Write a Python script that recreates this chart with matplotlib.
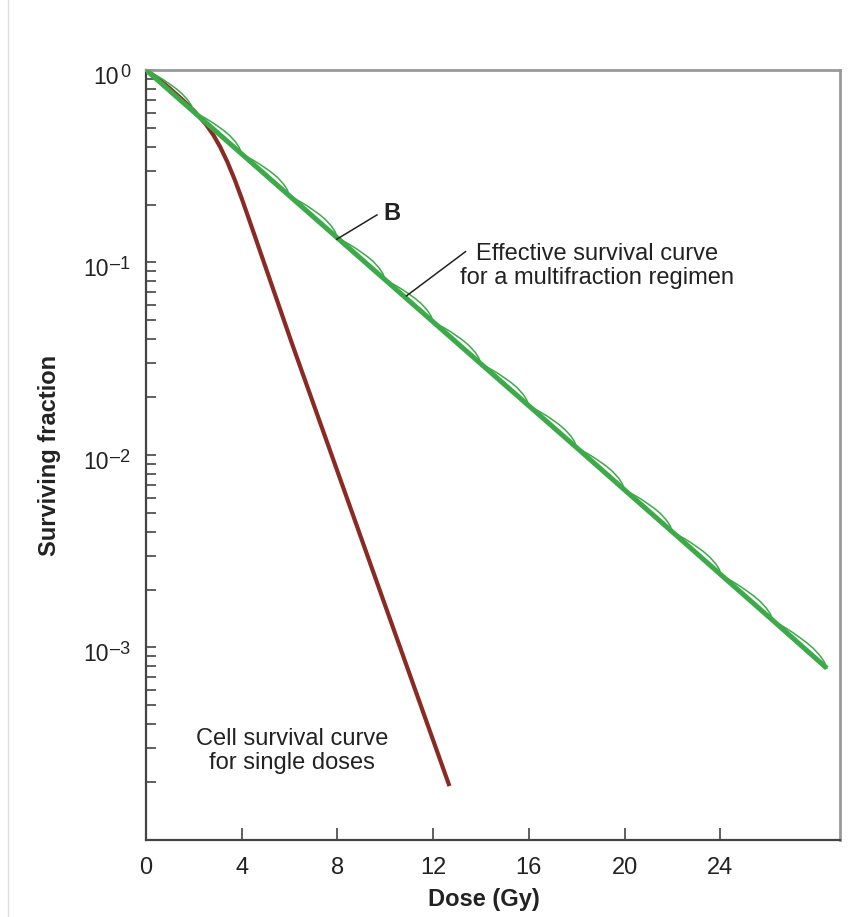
import matplotlib
matplotlib.use("Agg")
from matplotlib import pyplot as plt
from matplotlib.lines import Line2D
import numpy as np

plt.rcParams['font.family'] = ['Liberation Sans', 'DejaVu Sans']

# single dose survival curve (dose in Gy, surviving fraction)
single_dose = [0, 0.5, 1.0, 1.5, 2.0, 2.5, 2.8, 3.1, 3.4, 3.7, 4.0, 4.4, 4.9, 6.11, 12.68]
single_sf = [1.0, 0.9016, 0.7998, 0.7047, 0.6138, 0.5224, 0.4624, 0.3981, 0.3327,
             0.2704, 0.2148, 0.1549, 0.1023, 0.03758, 1.905e-4]

# fraction vertices of the multifraction regimen
frac_dose = [0, 2, 4, 6, 8, 10, 12, 14, 16, 18, 20, 22, 24.05, 26.2, 28.45]
frac_sf = [1.0, 0.605, 0.366, 0.2215, 0.134, 0.0811, 0.0491, 0.0297, 0.0180,
           0.0109, 0.00658, 0.00398, 0.00237, 0.00138, 0.00078]

# shape of one scallop: position within the fraction, rise above the chord (decades)
scallop_t = [0, 0.125, 0.25, 0.375, 0.5, 0.625, 0.75, 0.875, 0.95, 1.0]
scallop_rise = [0, 0.011, 0.021, 0.029, 0.035, 0.040, 0.041, 0.034, 0.022, 0]

yticks = [1, 1e-1, 1e-2, 1e-3]
ytick_exps = ['0', '\u20131', '\u20132', '\u20133']
xticks = [0, 4, 8, 12, 16, 20, 24]

red = '#8a2a22'
green = '#3daa4a'
ink = '#222222'

fig = plt.figure(figsize=(8.61, 9.17), dpi=100)
ax = fig.add_axes([0.1696, 0.0840, 0.8060, 0.8397])

ax.plot(single_dose, single_sf, color=red, lw=3.0, solid_capstyle='butt', zorder=2)

# thin scallops for each fraction
t = np.array(scallop_t)
rise = np.array(scallop_rise)
for i in range(len(frac_dose) - 1):
    d0, d1 = frac_dose[i], frac_dose[i + 1]
    l0, l1 = np.log10(frac_sf[i]), np.log10(frac_sf[i + 1])
    xs = d0 + t * (d1 - d0)
    ys = 10 ** (l0 + t * (l1 - l0) + rise)
    ax.plot(xs, ys, color=green, lw=1.1, zorder=3)

ax.plot(frac_dose, frac_sf, color=green, lw=3.6, solid_capstyle='butt', zorder=4)

ax.set_yscale('log')
ax.set_ylim(1e-4, 1)
ax.set_xlim(0, 29)
ax.set_yticks(yticks)
ax.set_yticklabels([])
ax.set_xticks(xticks)
ax.tick_params(axis='x', which='major', direction='in', length=8.5, width=1.2,
               color='#444444', labelsize=17, pad=12, labelcolor=ink)
ax.tick_params(axis='y', which='major', direction='in', length=7, width=1.2,
               color='#444444')
ax.tick_params(axis='y', which='minor', direction='in', length=7, width=1.2,
               color='#444444')
ax.yaxis.set_minor_formatter(matplotlib.ticker.NullFormatter())

for side in ['left', 'bottom']:
    ax.spines[side].set_color('#444444')
    ax.spines[side].set_linewidth(1.6)
for side in ['top', 'right']:
    ax.spines[side].set_color('#999999')
    ax.spines[side].set_linewidth(2.0)

# y tick labels as 10 with a raised exponent
renderer = fig.canvas.get_renderer()
for val, e in zip(yticks, ytick_exps):
    sup = ax.annotate(e, xy=(0, val), xycoords=('axes fraction', 'data'),
                      xytext=(-11.5, -5.0), textcoords='offset points',
                      ha='right', va='baseline', fontsize=13, color=ink)
    w = sup.get_window_extent(renderer).width * 72 / fig.dpi
    ax.annotate('10', xy=(0, val), xycoords=('axes fraction', 'data'),
                xytext=(-11.5 - w - 0.5, -9.8), textcoords='offset points',
                ha='right', va='baseline', fontsize=16.5, color=ink)

ax.set_xlabel('Dose (Gy)', fontsize=17, fontweight='bold', color=ink)
ax.xaxis.set_label_coords(0.487, -0.0624)
ax.set_ylabel('Surviving fraction', fontsize=17, fontweight='bold', color=ink)
ax.yaxis.set_label_coords(-0.1226, 0.5)

# labels and leader lines
ax.plot([7.97, 9.65], [0.132, 0.1766], color=ink, lw=1.1, zorder=5)
ax.text(9.92, 0.1807, 'B', fontsize=17, fontweight='bold', ha='left', va='center',
        color=ink)

ax.plot([10.88, 13.35], [0.067, 0.1138], color=ink, lw=1.1, zorder=5)
ax.text(18.83, 0.0959, 'Effective survival curve\nfor a multifraction regimen',
        fontsize=17, ha='center', va='center', multialignment='center',
        linespacing=1.15, color=ink)

ax.text(6.11, 2.9e-4, 'Cell survival curve\nfor single doses',
        fontsize=17, ha='center', va='center', multialignment='center',
        linespacing=1.15, color=ink)

fig.add_artist(Line2D([0.0093, 0.0093], [0.0, 1.0], transform=fig.transFigure,
                      color='#dddddd', lw=1.0))

fig.savefig('out.png', dpi=100)
